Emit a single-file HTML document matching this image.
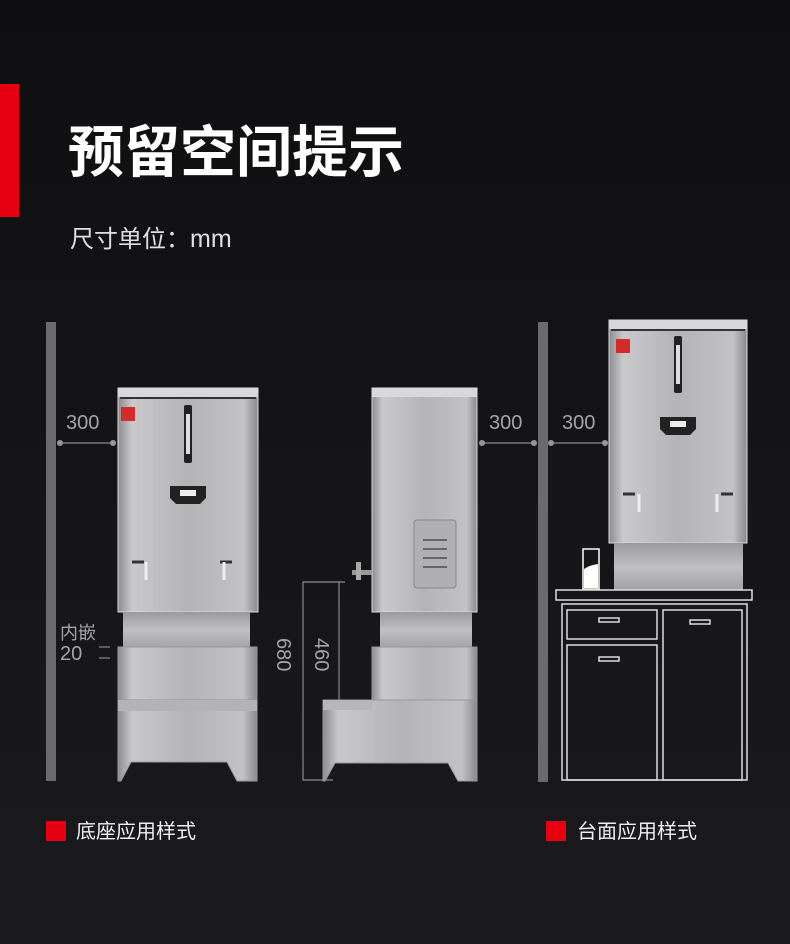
<!DOCTYPE html>
<html><head><meta charset="utf-8"><style>
html,body{margin:0;padding:0;background:#161619;}
svg{display:block}
</style></head><body>
<svg width="790" height="944" viewBox="0 0 790 944" xmlns="http://www.w3.org/2000/svg" font-family="Liberation Sans, Noto Sans CJK SC, sans-serif">
<defs>
<linearGradient id="bg" x1="0" y1="0" x2="0" y2="1"><stop offset="0" stop-color="#0f0f11"/><stop offset="1" stop-color="#1b1b1f"/></linearGradient>
<linearGradient id="st" x1="0" y1="0" x2="1" y2="0"><stop offset="0" stop-color="#8d8d90"/><stop offset="0.1" stop-color="#c9c9cc"/><stop offset="0.5" stop-color="#b4b4b7"/><stop offset="0.9" stop-color="#c2c2c5"/><stop offset="1" stop-color="#8a8a8d"/></linearGradient>
<linearGradient id="st2" x1="0" y1="0" x2="0" y2="1"><stop offset="0" stop-color="#9a9a9d"/><stop offset="0.5" stop-color="#c0c0c3"/><stop offset="1" stop-color="#a3a3a6"/></linearGradient>
</defs>
<rect width="790" height="944" fill="url(#bg)"/>
<rect x="0" y="84" width="19" height="133" fill="#e60012"/>
<text x="68" y="172" font-size="56" font-weight="bold" fill="#fff">预留空间提示</text>
<text x="70" y="247" font-size="24" fill="#e0e0e0">尺寸单位：<tspan font-size="25">mm</tspan></text>

<!-- walls -->
<rect x="46" y="322" width="10" height="459" fill="#6b6b6d"/>
<rect x="538" y="322" width="10" height="460" fill="#6b6b6d"/>

<!-- dims -->
<g fill="#9a9a9a" stroke="#8a8a8a" stroke-width="1.2">
<line x1="60" y1="443" x2="113" y2="443"/><circle cx="60" cy="443" r="2.5"/><circle cx="113" cy="443" r="2.5"/>
<line x1="482" y1="443" x2="534" y2="443"/><circle cx="482" cy="443" r="2.5"/><circle cx="534" cy="443" r="2.5"/>
<line x1="551" y1="443" x2="605" y2="443"/><circle cx="551" cy="443" r="2.5"/><circle cx="605" cy="443" r="2.5"/>
<line x1="99" y1="647" x2="110" y2="647"/><line x1="99" y1="658" x2="110" y2="658"/>
<polyline points="333,780 303,780 303,582 345,582" fill="none"/>
<line x1="339" y1="582" x2="339" y2="700"/>
</g>
<g fill="#a5a5a5" font-size="20">
<text x="66" y="429">300</text><text x="489" y="429">300</text><text x="562" y="429">300</text>
<text x="60" y="639" font-size="18">内嵌</text><text x="60" y="660">20</text>
<text transform="translate(277,638) rotate(90)">680</text>
<text transform="translate(315,638) rotate(90)">460</text>
</g>

<!-- front machine -->
<g>
<rect x="118" y="388" width="140" height="224" fill="url(#st)" stroke="#ddd" stroke-width="1"/>
<rect x="118" y="388" width="140" height="9" fill="#d8d8da"/>
<rect x="120" y="397" width="136" height="2" fill="#333"/>
<rect x="121" y="407" width="14" height="14" fill="#d42a2a"/>
<rect x="184" y="405" width="8" height="58" rx="2" fill="#222"/><rect x="186" y="414" width="4" height="40" fill="#ddd"/>
<path d="M170 486h36v12l-6 6h-24l-6-6z" fill="#222"/><rect x="180" y="490" width="16" height="6" fill="#eee"/>
<path d="M132 562h12M232 562h-12" stroke="#333" stroke-width="3" fill="none"/>
<path d="M146 562v18M224 562v18" stroke="#eee" stroke-width="3" fill="none"/>
<rect x="123" y="612" width="127" height="36" fill="url(#st2)"/>
<rect x="118" y="647" width="139" height="53" fill="url(#st)" stroke="#999" stroke-width="1"/>
<path d="M118 700h139v81h-20l-10-19h-96l-10 19h-3z" fill="url(#st)" stroke="#999" stroke-width="1"/>
<rect x="118" y="700" width="139" height="11" fill="#b3b3b6"/>
</g>

<!-- side machine -->
<g>
<rect x="372" y="388" width="105" height="224" fill="url(#st)" stroke="#ddd" stroke-width="1"/>
<rect x="372" y="388" width="105" height="9" fill="#d8d8da"/>
<rect x="414" y="520" width="42" height="68" rx="3" fill="#b0b0b3" stroke="#888"/>
<g stroke="#666" stroke-width="2"><line x1="423" y1="540" x2="447" y2="540"/><line x1="423" y1="549" x2="447" y2="549"/><line x1="423" y1="558" x2="447" y2="558"/><line x1="423" y1="567" x2="447" y2="567"/></g>
<rect x="352" y="570" width="20" height="5" fill="#999"/><rect x="356" y="562" width="5" height="18" fill="#aaa"/>
<rect x="380" y="612" width="92" height="36" fill="url(#st2)"/>
<rect x="372" y="647" width="105" height="58" fill="url(#st)" stroke="#999"/>
<path d="M323 700h49v-0h105v81h-19l-10-18h-113l-10 18h-2z" fill="url(#st)" stroke="#999"/>
<rect x="323" y="700" width="49" height="10" fill="#b7b7ba"/>
</g>

<!-- counter machine -->
<g>
<rect x="609" y="320" width="138" height="223" fill="url(#st)" stroke="#ddd"/>
<rect x="609" y="320" width="138" height="9" fill="#d8d8da"/>
<rect x="611" y="329" width="134" height="2" fill="#333"/>
<rect x="616" y="339" width="14" height="14" fill="#d42a2a"/>
<rect x="674" y="336" width="8" height="57" rx="2" fill="#222"/><rect x="676" y="345" width="4" height="39" fill="#ddd"/>
<path d="M660 417h36v12l-6 6h-24l-6-6z" fill="#222"/><rect x="670" y="421" width="16" height="6" fill="#eee"/>
<path d="M623 494h12M733 494h-12" stroke="#333" stroke-width="3" fill="none"/>
<path d="M639 494v18M717 494v18" stroke="#eee" stroke-width="3" fill="none"/>
<rect x="614" y="543" width="129" height="47" fill="url(#st2)"/>
</g>
<g fill="none" stroke="#ddd" stroke-width="1.5">
<rect x="583" y="549" width="16" height="40" stroke="#fff"/>
<rect x="556" y="590" width="196" height="10"/>
<rect x="562" y="604" width="185" height="176"/>
<rect x="567" y="610" width="90" height="29"/>
<rect x="567" y="645" width="90" height="135"/>
<rect x="663" y="610" width="79" height="170"/>
<rect x="599" y="618" width="20" height="4"/><rect x="599" y="657" width="20" height="4"/><rect x="690" y="620" width="20" height="4"/>
</g>
<path d="M584 569 Q590 565 598 564 V588 H584z" fill="#fff"/>

<!-- legend -->
<rect x="46" y="821" width="20" height="20" fill="#e60012"/>
<text x="76" y="838" font-size="20" fill="#f0f0f0">底座应用样式</text>
<rect x="546" y="821" width="20" height="20" fill="#e60012"/>
<text x="577" y="838" font-size="20" fill="#f0f0f0">台面应用样式</text>
</svg>
</body></html>
